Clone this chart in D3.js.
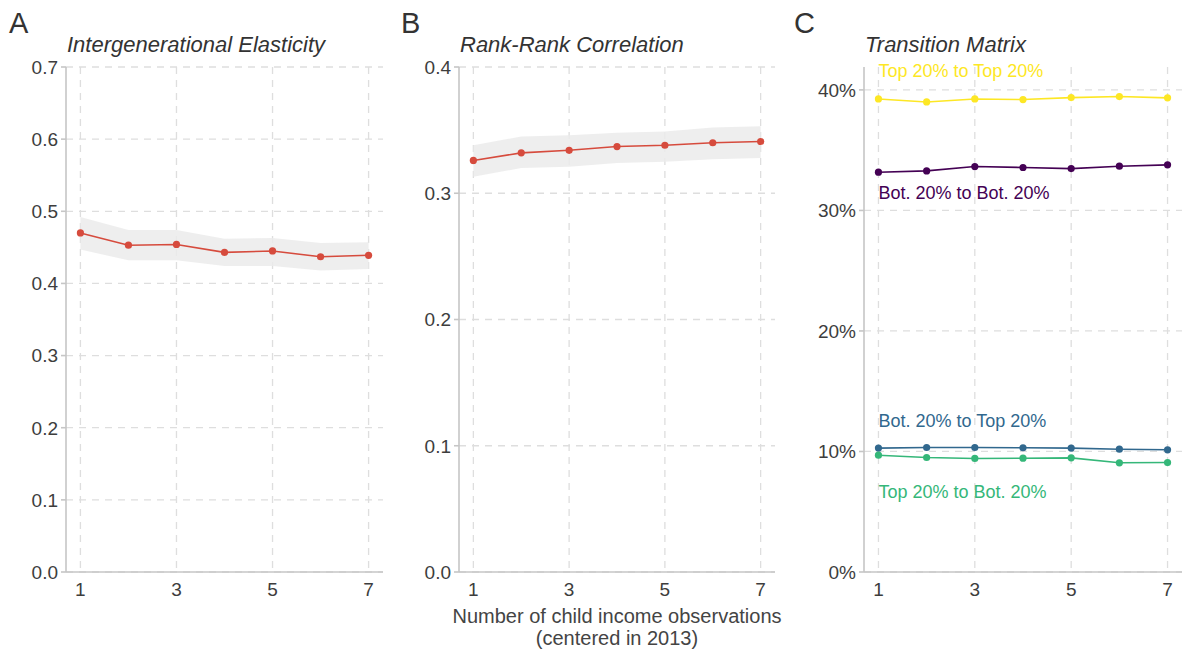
<!DOCTYPE html>
<html>
<head>
<meta charset="utf-8">
<script src="https://cdn.jsdelivr.net/npm/d3@7"></script>
<style>
  html, body { margin: 0; padding: 0; background: #fff; }
  svg { display: block; font-family: "Liberation Sans", Arial, sans-serif; }
  .tick-label { fill: #3d3d3d; font-size: 19px; }
  .panel-title { fill: #333; font-size: 22px; font-style: italic; }
  .panel-tag { fill: #333; font-size: 29px; }
  .axis-title { fill: #444; font-size: 20px; }
</style>
</head>
<body>
<svg id="chart" width="1182" height="653"></svg>
<script>
/* ── Data ─────────────────────────────────────────────────────────────────── */

const OBS = [1, 2, 3, 4, 5, 6, 7];
const X_TICKS = [1, 3, 5, 7];

// Panel A: intergenerational elasticity
const IGE = [0.470, 0.453, 0.454, 0.443, 0.445, 0.437, 0.439];
const IGE_LO = [0.447, 0.432, 0.432, 0.424, 0.424, 0.418, 0.420];
const IGE_HI = [0.492, 0.474, 0.474, 0.462, 0.463, 0.456, 0.457];
const IGE_TICKS = [0, 0.1, 0.2, 0.3, 0.4, 0.5, 0.6, 0.7];

// Panel B: rank-rank correlation
const RRC = [0.326, 0.332, 0.334, 0.337, 0.338, 0.340, 0.341];
const RRC_LO = [0.313, 0.320, 0.321, 0.324, 0.325, 0.327, 0.328];
const RRC_HI = [0.338, 0.345, 0.346, 0.348, 0.349, 0.352, 0.353];
const RRC_TICKS = [0, 0.1, 0.2, 0.3, 0.4];

// Panel C: transition matrix cells
const TM_NAMES = ["Top 20% to Top 20%", "Bot. 20% to Bot. 20%", "Bot. 20% to Top 20%", "Top 20% to Bot. 20%"];
const TM_COLORS = ["#FDE725", "#440154", "#31688E", "#35B779"];
const TM_TOP_TOP = [0.3925, 0.3900, 0.3925, 0.3920, 0.3936, 0.3945, 0.3934];
const TM_BOT_BOT = [0.3317, 0.3328, 0.3364, 0.3356, 0.3347, 0.3367, 0.3378];
const TM_BOT_TOP = [0.1028, 0.1033, 0.1033, 0.1031, 0.1028, 0.1019, 0.1014];
const TM_TOP_BOT = [0.0969, 0.0950, 0.0942, 0.0944, 0.0947, 0.0906, 0.0908];
const TM_LABEL_Y = [0.416, 0.315, 0.1255, 0.0665];
const TM_TICKS = [0, 0.1, 0.2, 0.3, 0.4];

/* ── Layout ───────────────────────────────────────────────────────────────── */

const TOP = 67, BOTTOM = 572;
const PANELS = [
  { left: 66, right: 383, tag: "A", tagX: 9, title: "Intergenerational Elasticity" },
  { left: 459, right: 775, tag: "B", tagX: 401, title: "Rank-Rank Correlation" },
  { left: 864, right: 1182, tag: "C", tagX: 794, title: "Transition Matrix" },
];

const GRID = "#dedede";
const AXIS = "#c6c6c6";
const RED = "#d64b3d";

const svg = d3.select("#chart");

/* ── Helpers ──────────────────────────────────────────────────────────────── */

function buildPanel(p, yDomain, yTicks, yFmt) {
  const g = svg.append("g");
  const x = d3.scaleLinear().domain([0.7, 7.3]).range([p.left, p.right]);
  const y = d3.scaleLinear().domain(yDomain).range([BOTTOM, TOP]);

  // Gridlines
  yTicks.forEach((v) => {
    g.append("line")
      .attr("x1", p.left).attr("x2", p.right)
      .attr("y1", y(v)).attr("y2", y(v))
      .attr("stroke", GRID).attr("stroke-width", 1.3)
      .attr("stroke-dasharray", "7,6");
  });
  X_TICKS.forEach((v) => {
    g.append("line")
      .attr("x1", x(v)).attr("x2", x(v))
      .attr("y1", TOP).attr("y2", BOTTOM)
      .attr("stroke", GRID).attr("stroke-width", 1.3)
      .attr("stroke-dasharray", "7,6");
  });

  // Axes
  g.append("line")
    .attr("x1", p.left).attr("x2", p.left)
    .attr("y1", TOP).attr("y2", BOTTOM)
    .attr("stroke", AXIS).attr("stroke-width", 1.6);
  g.append("line")
    .attr("x1", p.left).attr("x2", p.right)
    .attr("y1", BOTTOM).attr("y2", BOTTOM)
    .attr("stroke", AXIS).attr("stroke-width", 1.6);

  yTicks.forEach((v) => {
    g.append("line")
      .attr("x1", p.left - 5).attr("x2", p.left)
      .attr("y1", y(v)).attr("y2", y(v))
      .attr("stroke", AXIS).attr("stroke-width", 1.6);
    g.append("text")
      .attr("class", "tick-label")
      .attr("x", p.left - 8)
      .attr("y", y(v))
      .attr("dy", "0.36em")
      .attr("text-anchor", "end")
      .text(yFmt(v));
  });
  X_TICKS.forEach((v) => {
    g.append("text")
      .attr("class", "tick-label")
      .attr("x", x(v))
      .attr("y", BOTTOM + 24)
      .attr("text-anchor", "middle")
      .text(v);
  });

  // Tag + title
  svg.append("text").attr("class", "panel-tag")
    .attr("x", p.tagX).attr("y", 33).text(p.tag);
  svg.append("text").attr("class", "panel-title")
    .attr("x", p.left + 1).attr("y", 52).text(p.title);

  return { g, x, y };
}

function drawSeries(ctx, values, color, lo, hi) {
  const { g, x, y } = ctx;
  if (lo) {
    const area = d3.area()
      .x((_, i) => x(OBS[i]))
      .y0((_, i) => y(lo[i]))
      .y1((_, i) => y(hi[i]));
    g.append("path")
      .attr("d", area(values))
      .attr("fill", "#ebebeb")
      .attr("opacity", 0.85);
  }
  const line = d3.line()
    .x((_, i) => x(OBS[i]))
    .y((d) => y(d));
  g.append("path")
    .attr("d", line(values))
    .attr("fill", "none")
    .attr("stroke", color)
    .attr("stroke-width", 1.6);
  g.selectAll(null)
    .data(values)
    .enter()
    .append("circle")
    .attr("cx", (_, i) => x(OBS[i]))
    .attr("cy", (d) => y(d))
    .attr("r", 3.6)
    .attr("fill", color);
}

/* ── Panels ───────────────────────────────────────────────────────────────── */

const fmt1 = d3.format(".1f");
const pct = (v) => Math.round(v * 100) + "%";

const a = buildPanel(PANELS[0], [0, 0.7], IGE_TICKS, fmt1);
drawSeries(a, IGE, RED, IGE_LO, IGE_HI);

const b = buildPanel(PANELS[1], [0, 0.4], RRC_TICKS, fmt1);
drawSeries(b, RRC, RED, RRC_LO, RRC_HI);

const c = buildPanel(PANELS[2], [0, 0.419], TM_TICKS, pct);
[TM_TOP_TOP, TM_BOT_BOT, TM_BOT_TOP, TM_TOP_BOT].forEach((vals, k) => {
  drawSeries(c, vals, TM_COLORS[k]);
  c.g.append("text")
    .attr("x", c.x(1))
    .attr("y", c.y(TM_LABEL_Y[k]))
    .attr("dy", "0.36em")
    .attr("fill", TM_COLORS[k])
    .attr("font-size", "18px")
    .text(TM_NAMES[k]);
});

// Shared x-axis title under the middle panel
const mid = (PANELS[1].left + PANELS[1].right) / 2;
svg.append("text").attr("class", "axis-title")
  .attr("x", mid).attr("y", 623).attr("text-anchor", "middle")
  .text("Number of child income observations");
svg.append("text").attr("class", "axis-title")
  .attr("x", mid).attr("y", 645).attr("text-anchor", "middle")
  .text("(centered in 2013)");
</script>
</body>
</html>
